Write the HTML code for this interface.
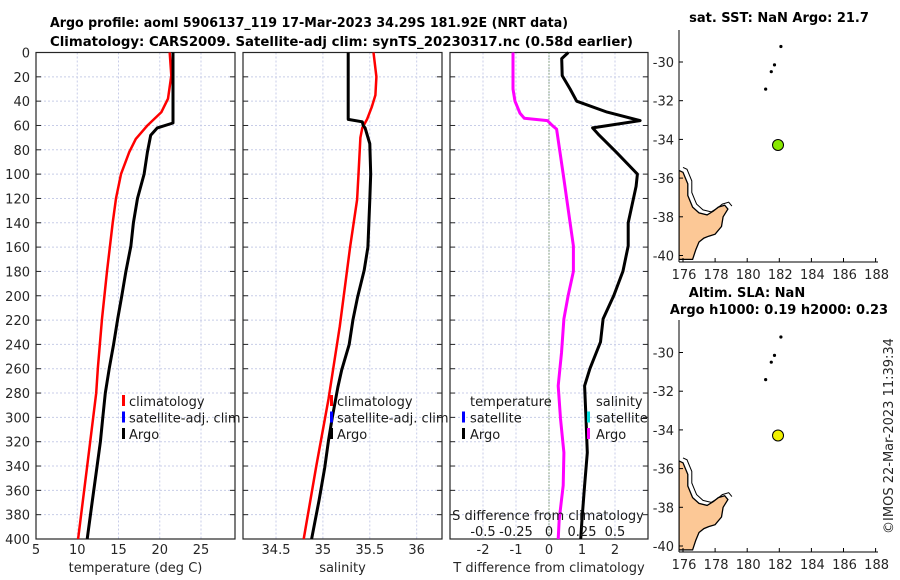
<!DOCTYPE html>
<html><head><meta charset="utf-8"><style>
body{margin:0;background:#fff;}
svg{display:block;font-family:"DejaVu Sans","Liberation Sans",sans-serif;}
</style></head><body>
<svg id="fig" width="900" height="580" xmlns="http://www.w3.org/2000/svg"></svg>
<script>
// ---- data ----
const depthTicks=[0,20,40,60,80,100,120,140,160,180,200,220,240,260,280,300,320,340,360,380,400];
const tempTicks=[5,10,15,20,25];
const salTicks=[34.5,35,35.5,36];
const tdiffTicks=[-2,-1,0,1,2];
const sdiffTicks=["-0.5","-0.25","0","0.25","0.5"];
const sdiffTickVals=[-0.5,-0.25,0,0.25,0.5];
const latTicks=[-30,-32,-34,-36,-38,-40];
const lonTicks=[176,178,180,182,184,186,188];

const climTDepth=[0,19,38,49,60,71,82,100,120,140,180,219,259,280,340,400];
const climTVal=[21.2,21.4,21.0,20.2,18.5,17.1,16.3,15.3,14.7,14.3,13.6,13.0,12.5,12.3,11.2,10.1];
const argoTDepth=[0,58,62,68,82,100,120,140,159,180,200,219,240,259,280,300,320,340,370,400];
const argoTVal=[21.6,21.6,19.7,18.9,18.5,18.1,17.3,16.8,16.5,15.9,15.4,14.9,14.4,13.9,13.4,13.1,12.8,12.4,11.8,11.2];

const climSDepth=[0,20,35,45,55,62,70,100,121,160,225,285,340,400];
const climSVal=[35.54,35.57,35.56,35.52,35.47,35.42,35.40,35.38,35.365,35.29,35.18,35.06,34.93,34.795];
const argoSDepth=[0,55,57,60,62,75,100,121,160,179,201,220,240,261,275,300,319,341,368,400];
const argoSVal=[35.27,35.27,35.42,35.43,35.45,35.50,35.51,35.50,35.48,35.44,35.37,35.32,35.28,35.2,35.16,35.1,35.06,35.02,34.96,34.88];

const tdDepth=[0,30,40,50,54,56,60,63,100,140,159,180,200,219,247,274,301,329,356,384,400];
const tdVal=[-1.09,-1.09,-1.03,-0.88,-0.75,-0.05,0.1,0.23,0.43,0.64,0.74,0.74,0.58,0.45,0.38,0.28,0.35,0.45,0.43,0.31,0.28];
const sdDepth=[0,5,19,30,40,49,56,62,68,82,100,110,140,159,180,200,219,238,260,274,301,329,356,384,400];
const sdVal=[0.146,0.096,0.1,0.16,0.21,0.44,0.69,0.33,0.38,0.51,0.67,0.66,0.6,0.6,0.56,0.49,0.41,0.39,0.31,0.27,0.28,0.29,0.27,0.25,0.24];

const islandLon=[182.1,181.7,181.5,181.15];
const islandLat=[-29.2,-30.15,-30.5,-31.4];
const argoLon=[181.92];
const argoLat=[-34.29];
const coastLon=[175.75,176.0,176.3,176.3,176.5,176.6,177.0,177.5,177.9,178.2,178.6,178.8,178.5,178.4,178.0,177.6,177.3,177.0,176.8,176.6,175.75];
const coastLat=[-35.6,-35.7,-36.3,-36.9,-37.3,-37.5,-37.8,-37.9,-37.7,-37.5,-37.4,-37.6,-38.0,-38.5,-38.9,-39.0,-39.1,-39.3,-39.7,-40.2,-40.2];

// ---- helpers ----
const NS="http://www.w3.org/2000/svg";
const svg=document.getElementById('fig');
function el(tag,attrs,parent){const e=document.createElementNS(NS,tag);for(const k in attrs)e.setAttribute(k,attrs[k]);(parent||svg).appendChild(e);return e;}
function txt(s,x,y,attrs,parent){const e=el('text',Object.assign({x:x,y:y,'font-size':13,fill:'#262626'},attrs||{}),parent);e.textContent=s;return e;}

const Y0=52.5,Y1=539;
const yD=d=>Y0+d*(Y1-Y0)/400;
const panels=[
 {name:'temperature-panel',x0:36,x1:235,lo:5,hi:29.12},
 {name:'salinity-panel',x0:243,x1:442,lo:34.148,hi:36.27},
 {name:'difference-panel',x0:450,x1:648,lo:-3,hi:3}
];
panels.forEach(p=>{p.sx=v=>p.x0+(v-p.lo)*(p.x1-p.x0)/(p.hi-p.lo);});

// titles
let t=txt('Argo profile: aoml 5906137_119 17-Mar-2023 34.29S 181.92E (NRT data)',50,27,{'font-weight':'bold',fill:'#000',textLength:518,lengthAdjust:'spacingAndGlyphs'});

t=txt('Climatology: CARS2009. Satellite-adj clim: synTS_20230317.nc (0.58d earlier)',50,46,{'font-weight':'bold',fill:'#000',textLength:583,lengthAdjust:'spacingAndGlyphs'});


function drawPanel(p,xt,xtLabels,xlabel){
 const g=el('g',{});
 
 
 xt.forEach(v=>{el('line',{x1:p.sx(v),x2:p.sx(v),y1:Y0,y2:Y1,stroke:'#c8cde8','stroke-width':1,'stroke-dasharray':'2,2'},g);});
 depthTicks.forEach(d=>{el('line',{x1:p.x0,x2:p.x1,y1:yD(d),y2:yD(d),stroke:'#c8cde8','stroke-width':1,'stroke-dasharray':'2,2'},g);
  el('line',{x1:p.x0,x2:p.x0+5,y1:yD(d),y2:yD(d),stroke:'#262626'},g);
  el('line',{x1:p.x1,x2:p.x1-5,y1:yD(d),y2:yD(d),stroke:'#262626'},g);});
 xt.forEach((v,i)=>{const xl=txt(xtLabels[i],p.sx(v),554,{'text-anchor':'middle'},g);
  });
 const xl=txt(xlabel,(p.x0+p.x1)/2,572,{'text-anchor':'middle'},g);
 
 el('rect',{x:p.x0,y:Y0,width:p.x1-p.x0,height:Y1-Y0,fill:'none',stroke:'#262626','stroke-width':1.2},g);
 return g;
}
function line(p,ds,vs,color,w,name,g,conv){
 const pts=ds.map((d,i)=>p.sx(conv?conv(vs[i]):vs[i]).toFixed(1)+','+yD(d).toFixed(1)).join(' ');
 const l=el('polyline',{points:pts,fill:'none',stroke:color,'stroke-width':w,'stroke-linejoin':'round'},g);
 
}
const g1=drawPanel(panels[0],tempTicks,tempTicks.map(String),'temperature (deg C)');
const g2=drawPanel(panels[1],salTicks,salTicks.map(String),'salinity');
const g3=drawPanel(panels[2],tdiffTicks,tdiffTicks.map(String),'T difference from climatology');
depthTicks.forEach(d=>{const l=txt(String(d),30,yD(d)+5,{'text-anchor':'end'});
 });
el('line',{x1:panels[2].sx(0),x2:panels[2].sx(0),y1:Y0,y2:Y1,stroke:'#3a6a2a','stroke-width':1,'stroke-dasharray':'1,2'},g3);

line(panels[0],climTDepth,climTVal,'#ff0000',2.5,'temp-climatology-line',g1);
line(panels[0],argoTDepth,argoTVal,'#000',3,'temp-argo-line',g1);
line(panels[1],climSDepth,climSVal,'#ff0000',2.5,'sal-climatology-line',g2);
line(panels[1],argoSDepth,argoSVal,'#000',3,'sal-argo-line',g2);
line(panels[2],tdDepth,tdVal,'#ff00ff',3,'temp-diff-line',g3);
line(panels[2],sdDepth,sdVal,'#000',3,'sal-diff-line',g3,v=>v*4);

function legend(items,mx,tx,y0,name){
 const g=el('g',{});
 items.forEach((it,i)=>{const y=y0+i*16.5;
  if(it[1])el('rect',{x:mx,y:y-11,width:3,height:11,fill:it[1]},g);
  const e=txt(it[0],tx,y,{fill:'#1a1a1a'},g);
  });
}
legend([['climatology','#ff0000'],['satellite-adj. clim','#0000ff'],['Argo','#000']],122,129,406,'temp-legend');
legend([['climatology','#ff0000'],['satellite-adj. clim','#0000ff'],['Argo','#000']],330,337,406,'sal-legend');
legend([['temperature',null],['satellite','#0000ff'],['Argo','#000']],462,470,406,'temp-diff-legend');
legend([['salinity',null],['satellite','#00e0e0'],['Argo','#ff00ff']],587,596,406,'sal-diff-legend');
t=txt('S difference from climatology',548,520,{'text-anchor':'middle',fill:'#1a1a1a'});

sdiffTickVals.forEach((v,i)=>{const e=txt(sdiffTicks[i],panels[2].sx(v*4),536,{'text-anchor':'middle',fill:'#1a1a1a'});
 });

function map(name,yTop,yBot,latY0,dotColor,titles){
 const g=el('g',{});
 const mx=lon=>683+(lon-176)*16.05;
 const my=lat=>latY0+(-30-lat)*19.35;
 titles.forEach((s,i)=>{const e=txt(s[0],s[1],s[2],{'font-weight':'bold','text-anchor':'middle',fill:'#000'},g);
  });
 const clip='clip'+name;
 const cp=el('clipPath',{id:clip},g);el('rect',{x:679,y:yTop,width:210,height:yBot-yTop},cp);
 const pts=coastLon.map((l,i)=>mx(l).toFixed(1)+','+my(coastLat[i]).toFixed(1)).join(' ');
 const c=el('polygon',{points:pts,fill:'#fcc896',stroke:'#000','stroke-width':1.3,'clip-path':'url(#'+clip+')'},g);
 
 const pts2=coastLon.slice(0,12).map((l,i)=>(mx(l)+4).toFixed(1)+','+(my(coastLat[i])-3).toFixed(1)).join(' ');
 el('polyline',{points:pts2,fill:'none',stroke:'#000','stroke-width':1,'clip-path':'url(#'+clip+')'},g);
 islandLon.forEach((l,i)=>{const d=el('circle',{cx:mx(l),cy:my(islandLat[i]),r:1.6,fill:'#000'},g);
  });
 argoLon.forEach((l,i)=>{const d=el('circle',{cx:mx(l),cy:my(argoLat[i]),r:5.5,fill:dotColor,stroke:'#000','stroke-width':1},g);
  });
 el('line',{x1:679,x2:679,y1:yTop,y2:yBot,stroke:'#000'},g);
 el('line',{x1:679,x2:878,y1:yBot,y2:yBot,stroke:'#000'},g);
 latTicks.forEach(v=>{el('line',{x1:679,x2:683,y1:my(v),y2:my(v),stroke:'#000'},g);
  const e=txt(String(v),674,my(v)+5,{'text-anchor':'end'},g);
  });
 lonTicks.forEach(v=>{el('line',{x1:mx(v),x2:mx(v),y1:yBot,y2:yBot-4,stroke:'#000'},g);
  const e=txt(String(v),mx(v)+1,yBot+17,{'text-anchor':'middle'},g);
  });
}
map('sst-map',30,262,62,'#88e800',[['sat. SST: NaN Argo: 21.7',779,22]]);
map('sla-map',320,552,352.5,'#f0f000',[['Altim. SLA: NaN',747,297],['Argo h1000: 0.19 h2000: 0.23',779,314]]);

t=txt('©IMOS 22-Mar-2023 11:39:34',0,0,{'text-anchor':'middle',transform:'translate(893,436) rotate(-90)'});

</script>
</body></html>
